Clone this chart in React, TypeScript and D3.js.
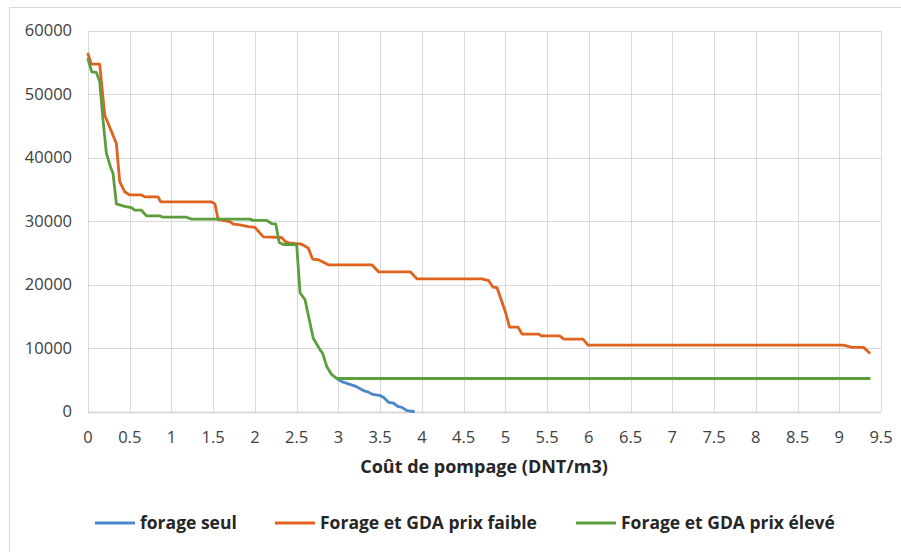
import React from "react";
import * as d3 from "d3";

const xTicks: number[] = [0, 0.5, 1, 1.5, 2, 2.5, 3, 3.5, 4, 4.5, 5, 5.5, 6, 6.5, 7, 7.5, 8, 8.5, 9, 9.5];
const yTicks: number[] = [0, 10000, 20000, 30000, 40000, 50000, 60000];

const seriesNames: string[] = ["forage seul", "Forage et GDA prix faible", "Forage et GDA prix élevé"];
const seriesColors: string[] = ["#4A88CB", "#E0621F", "#5C9D3D"];

const forageSeul: [number, number][] = [
  [2.98, 5200], [3.04, 4700], [3.12, 4350], [3.2, 4000], [3.3, 3300], [3.36, 3050], [3.4, 2750],
  [3.5, 2500], [3.54, 2250], [3.6, 1450], [3.66, 1300], [3.72, 750], [3.76, 650], [3.82, 150], [3.9, 0],
];

const gdaPrixFaible: [number, number][] = [
  [0, 56300], [0.04, 54700], [0.14, 54700], [0.2, 46700], [0.34, 42200], [0.38, 36200], [0.44, 34600],
  [0.5, 34100], [0.64, 34100], [0.68, 33800], [0.84, 33800], [0.87, 33000], [1.48, 33000], [1.52, 32700],
  [1.56, 30200], [1.7, 29900], [1.74, 29500], [1.82, 29400], [1.92, 29100], [2.0, 29000], [2.1, 27500],
  [2.32, 27400], [2.36, 26800], [2.42, 26500], [2.54, 26400], [2.58, 26200], [2.64, 25700], [2.69, 24000],
  [2.76, 23900], [2.88, 23100], [3.4, 23100], [3.48, 22000], [3.86, 22000], [3.94, 20900], [4.72, 20900],
  [4.8, 20600], [4.85, 19600], [4.9, 19500], [5.0, 15700], [5.05, 13300], [5.15, 13300], [5.2, 12200],
  [5.4, 12200], [5.43, 11900], [5.65, 11900], [5.7, 11400], [5.93, 11400], [5.99, 10450], [9.05, 10450],
  [9.15, 10100], [9.29, 10100], [9.36, 9250],
];

const gdaPrixEleve: [number, number][] = [
  [0, 55500], [0.045, 53500], [0.1, 53400], [0.14, 52000], [0.18, 45900], [0.22, 40700], [0.275, 38300],
  [0.3, 37500], [0.34, 32700], [0.44, 32300], [0.52, 32100], [0.56, 31700], [0.64, 31700], [0.7, 30800],
  [0.86, 30800], [0.9, 30600], [1.18, 30600], [1.24, 30300], [1.94, 30300], [1.98, 30100], [2.14, 30100],
  [2.2, 29600], [2.25, 29500], [2.29, 26600], [2.34, 26300], [2.5, 26300], [2.54, 18700], [2.6, 17600],
  [2.66, 13900], [2.7, 11500], [2.78, 9700], [2.81, 9200], [2.86, 7100], [2.92, 5800], [2.98, 5200],
  [9.36, 5200],
];

const xTitle = "Coût de pompage (DNT/m3)";

export default function App() {
  const W = 901, H = 552;
  const left = 88, right = 881, top = 30.5, bottom = 411.5;
  const x = d3.scaleLinear().domain([0, 9.5]).range([left, right]);
  const y = d3.scaleLinear().domain([0, 60000]).range([bottom, top]);
  const line = d3.line<[number, number]>().x(d => x(d[0])).y(d => y(d[1]));
  const series = [forageSeul, gdaPrixFaible, gdaPrixEleve];
  const font = "'Open Sans', 'Noto Sans', sans-serif";
  const legendX = [95, 275, 576];

  return (
    <svg width={W} height={H} style={{ position: "absolute", left: 0, top: 0, background: "#fff" }} fontFamily={font}>
      <rect x={9.5} y={7.5} width={W} height={H} fill="#fff" stroke="#d9d9d9" strokeWidth={1} />
      {yTicks.map(t => (
        <line key={"gy" + t} x1={left} x2={right} y1={Math.round(y(t)) + 0.5} y2={Math.round(y(t)) + 0.5} stroke="#d9d9d9" strokeWidth={1} />
      ))}
      {xTicks.map(t => (
        <line key={"gx" + t} x1={Math.round(x(t)) + 0.5} x2={Math.round(x(t)) + 0.5} y1={top} y2={bottom} stroke="#d9d9d9" strokeWidth={1} />
      ))}
      <line x1={left} x2={right} y1={Math.round(bottom) + 0.5} y2={Math.round(bottom) + 0.5} stroke="#d0d0d0" strokeWidth={1.5} />
      {yTicks.map(t => (
        <text key={"ty" + t} x={72} y={y(t)} dy="0.35em" textAnchor="end" fontSize={16.5} fill="#404040">{t}</text>
      ))}
      {xTicks.map(t => (
        <text key={"tx" + t} x={x(t)} y={437} dy="0.35em" textAnchor="middle" fontSize={16.5} fill="#404040">{t}</text>
      ))}
      <text x={484} y={473} textAnchor="middle" fontSize={18} fontWeight="bold" fill="#262626">{xTitle}</text>
      {series.map((s, i) => (
        <path key={"s" + i} d={line(s) || ""} fill="none" stroke={seriesColors[i]} strokeWidth={2.8} strokeLinejoin="round" strokeLinecap="round" />
      ))}
      {seriesNames.map((n, i) => (
        <g key={"l" + i}>
          <line x1={legendX[i]} x2={legendX[i] + 40} y1={523} y2={523} stroke={seriesColors[i]} strokeWidth={2.8} />
          <text x={legendX[i] + 45} y={523} dy="0.35em" fontSize={17.5} fontWeight="bold" fill="#262626">{n}</text>
        </g>
      ))}
    </svg>
  );
}
